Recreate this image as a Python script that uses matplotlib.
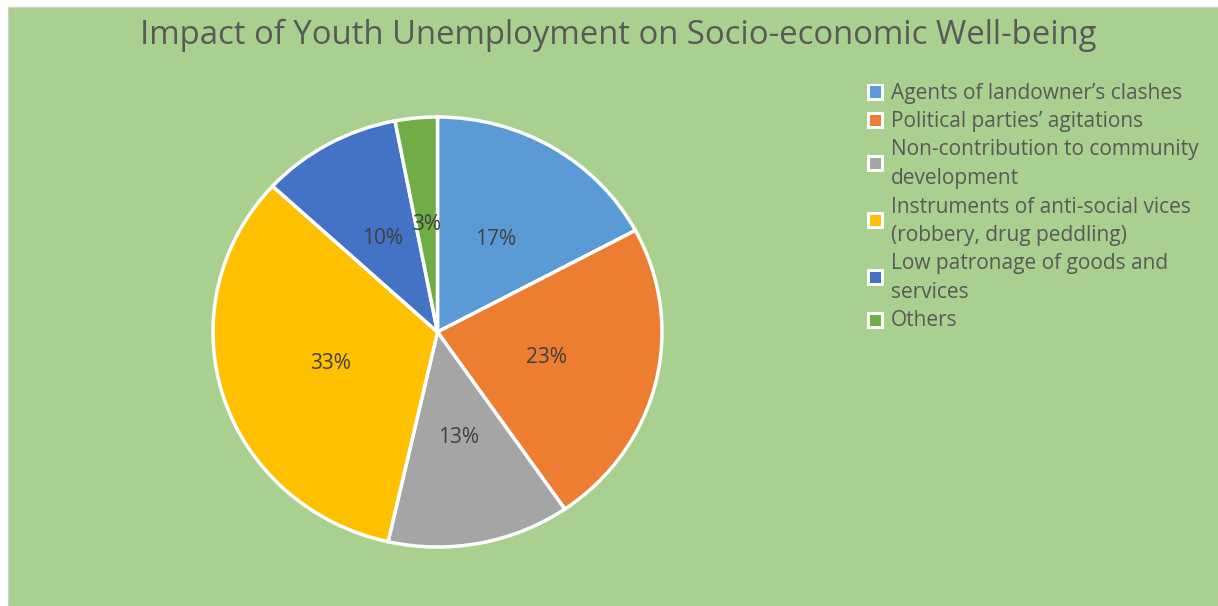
import matplotlib
matplotlib.use("Agg")
import matplotlib.pyplot as plt
from matplotlib.patches import Rectangle

categories = [
    "Agents of landowner\u2019s clashes",
    "Political parties\u2019 agitations",
    "Non-contribution to community\ndevelopment",
    "Instruments of anti-social vices\n(robbery, drug peddling)",
    "Low patronage of goods and\nservices",
    "Others",
]
values = [17, 23, 13, 33, 10, 3]
colors = ["#5B9BD5", "#ED7D31", "#A5A5A5", "#FFC000", "#4472C4", "#70AD47"]
title = "Impact of Youth Unemployment on Socio-economic Well-being"

W, H = 1218, 606
FONT = "Open Sans"
TXT = "#595959"
BG = "#A9D08E"

fig = plt.figure(figsize=(W / 100, H / 100), dpi=100)
fig.patch.set_facecolor("white")
fig.patches.append(Rectangle((8 / W, 0), 1 - 8 / W, 1 - 7 / H, transform=fig.transFigure,
                             facecolor=BG, edgecolor="#D0D0D0", linewidth=0.8, zorder=-10))

# pie axes (slightly elliptical as in reference)
cx, cy, rx, ry = 437.5, 332, 224.5, 215
ax = fig.add_axes([(cx - rx) / W, (H - cy - ry) / H, 2 * rx / W, 2 * ry / H], zorder=5)
ax.set_facecolor("none")
wedges, texts, autotexts = ax.pie(
    values, colors=colors, startangle=90, counterclock=False,
    autopct="%1.0f%%", pctdistance=0.5,
    wedgeprops=dict(edgecolor="white", linewidth=2.5),
    textprops=dict(color="#404040", fontsize=15, family=FONT),
)
ax.set_aspect("auto")
ax.set_xlim(-1, 1)
ax.set_ylim(-1, 1)
ax.axis("off")

fig.text(618 / W, 1 - 35 / H, title, ha="center", va="center", fontsize=23.7,
         color=TXT, family=FONT)

# legend
pitch = 28.5
y = 92
for lab, col in zip(categories, colors):
    lines = lab.split("\n")
    n = len(lines)
    for i, ln in enumerate(lines):
        fig.text(891 / W, 1 - (y + 1 + i * pitch) / H, ln, ha="left", va="center",
                 fontsize=15, color=TXT, family=FONT)
    ymid = y + (n - 1) * pitch / 2
    s = 17
    fig.patches.append(Rectangle(((875 - s / 2) / W, 1 - (ymid + s / 2) / H), s / W, s / H,
                                 transform=fig.transFigure, facecolor="white",
                                 edgecolor="none", zorder=3))
    s2 = 11
    fig.patches.append(Rectangle(((875 - s2 / 2) / W, 1 - (ymid + s2 / 2) / H), s2 / W, s2 / H,
                                 transform=fig.transFigure, facecolor=col,
                                 edgecolor="none", zorder=4))
    y += n * pitch

fig.savefig("out.png", dpi=100)
